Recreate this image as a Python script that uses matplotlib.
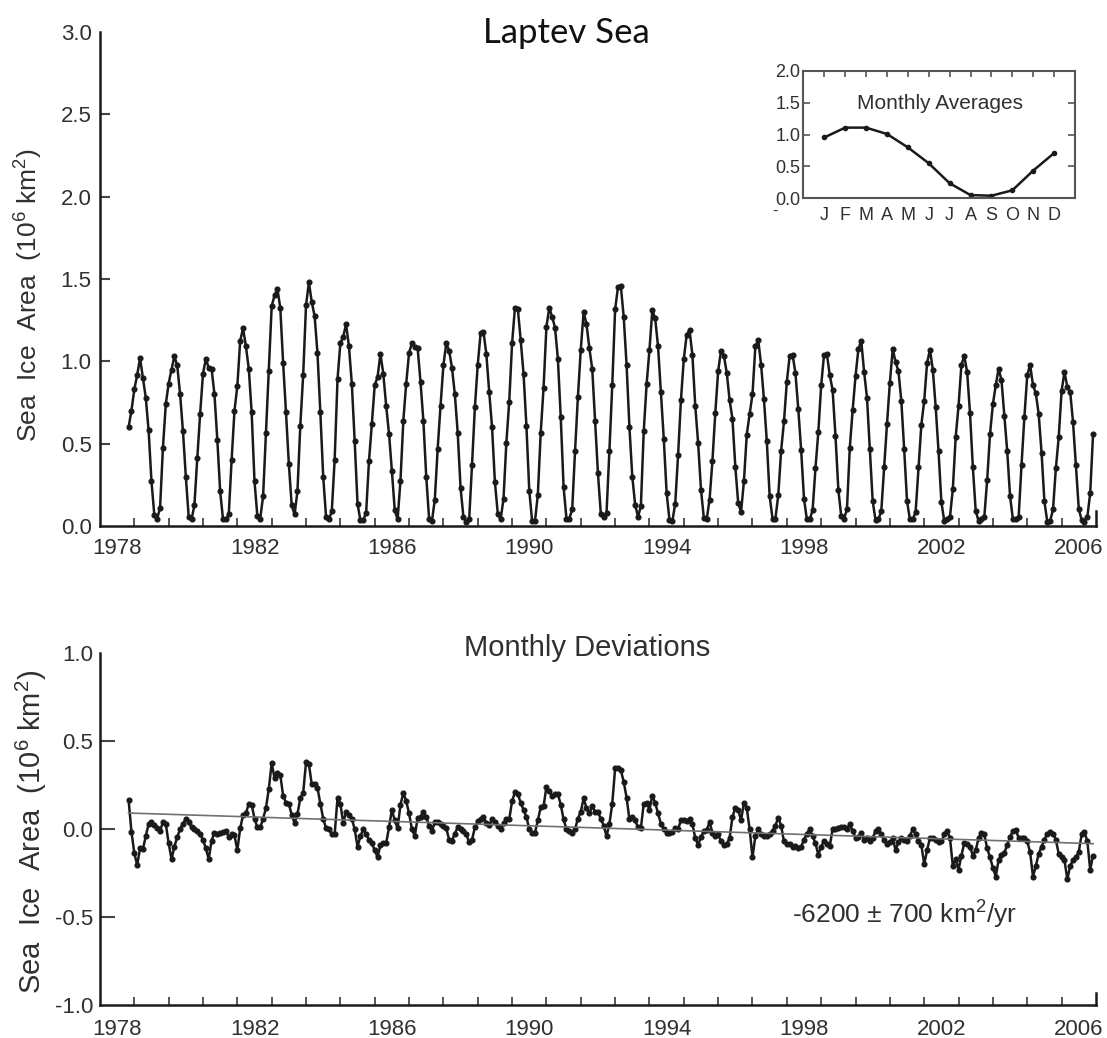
import numpy as np
import matplotlib
matplotlib.use("Agg")
import matplotlib.pyplot as plt
from matplotlib.ticker import FixedLocator

plt.rcParams['font.family'] = ['Liberation Sans', 'DejaVu Sans']
plt.rcParams['mathtext.fontset'] = 'custom'
plt.rcParams['mathtext.rm'] = 'Liberation Sans'
plt.rcParams['mathtext.it'] = 'Liberation Sans:italic'
plt.rcParams['mathtext.bf'] = 'Liberation Sans:bold'

# ---------------------------------------------------------------
# Laptev Sea ice area, 10^6 km^2, monthly from Nov 1978 to Dec 2006
# ---------------------------------------------------------------
start_year, start_month = 1978, 11

area_1978 = [0.60, 0.70]
area_1979 = [0.83, 0.915, 1.02, 0.90, 0.78, 0.58, 0.27, 0.065, 0.045, 0.11, 0.475, 0.74]
area_1980 = [0.865, 0.95, 1.03, 0.975, 0.80, 0.575, 0.30, 0.055, 0.04, 0.125, 0.41, 0.68]
area_1981 = [0.925, 1.015, 0.96, 0.955, 0.80, 0.525, 0.21, 0.04, 0.04, 0.07, 0.40, 0.70]
area_1982 = [0.85, 1.125, 1.20, 1.09, 0.955, 0.69, 0.27, 0.06, 0.045, 0.18, 0.565, 0.94]
area_1983 = [1.335, 1.40, 1.44, 1.325, 0.99, 0.69, 0.375, 0.125, 0.07, 0.21, 0.61, 0.915]
area_1984 = [1.34, 1.48, 1.36, 1.275, 1.05, 0.69, 0.30, 0.055, 0.04, 0.09, 0.40, 0.89]
area_1985 = [1.11, 1.15, 1.225, 1.09, 0.865, 0.515, 0.135, 0.035, 0.035, 0.08, 0.395, 0.62]
area_1986 = [0.855, 0.905, 1.045, 0.925, 0.73, 0.56, 0.335, 0.095, 0.04, 0.275, 0.64, 0.865]
area_1987 = [1.05, 1.11, 1.085, 1.08, 0.875, 0.64, 0.30, 0.045, 0.03, 0.16, 0.47, 0.73]
area_1988 = [0.975, 1.11, 1.065, 0.96, 0.80, 0.565, 0.23, 0.055, 0.025, 0.04, 0.37, 0.72]
area_1989 = [0.98, 1.17, 1.18, 1.045, 0.815, 0.60, 0.265, 0.075, 0.04, 0.165, 0.505, 0.755]
area_1990 = [1.11, 1.325, 1.32, 1.13, 0.925, 0.61, 0.215, 0.03, 0.03, 0.19, 0.565, 0.84]
area_1991 = [1.21, 1.325, 1.27, 1.205, 1.015, 0.66, 0.235, 0.045, 0.045, 0.10, 0.455, 0.785]
area_1992 = [1.07, 1.30, 1.225, 1.08, 0.955, 0.64, 0.32, 0.075, 0.055, 0.08, 0.455, 0.855]
area_1993 = [1.315, 1.45, 1.455, 1.27, 0.98, 0.60, 0.30, 0.13, 0.055, 0.12, 0.575, 0.86]
area_1994 = [1.07, 1.31, 1.26, 1.09, 0.815, 0.53, 0.20, 0.035, 0.03, 0.135, 0.43, 0.765]
area_1995 = [1.015, 1.16, 1.19, 1.04, 0.73, 0.505, 0.22, 0.05, 0.04, 0.16, 0.395, 0.685]
area_1996 = [0.94, 1.065, 1.035, 0.93, 0.765, 0.65, 0.36, 0.14, 0.085, 0.27, 0.555, 0.68]
area_1997 = [0.80, 1.09, 1.13, 0.98, 0.77, 0.515, 0.18, 0.045, 0.045, 0.185, 0.455, 0.635]
area_1998 = [0.875, 1.035, 1.04, 0.93, 0.71, 0.46, 0.165, 0.04, 0.04, 0.095, 0.35, 0.57]
area_1999 = [0.855, 1.04, 1.045, 0.915, 0.825, 0.545, 0.22, 0.06, 0.045, 0.10, 0.475, 0.705]
area_2000 = [0.91, 1.075, 1.125, 0.935, 0.78, 0.465, 0.15, 0.035, 0.04, 0.09, 0.36, 0.62]
area_2001 = [0.87, 1.075, 0.995, 0.94, 0.76, 0.465, 0.15, 0.04, 0.04, 0.085, 0.355, 0.615]
area_2002 = [0.76, 0.99, 1.07, 0.95, 0.725, 0.455, 0.145, 0.03, 0.04, 0.055, 0.225, 0.54]
area_2003 = [0.73, 0.98, 1.03, 0.935, 0.685, 0.355, 0.09, 0.03, 0.04, 0.055, 0.28, 0.56]
area_2004 = [0.74, 0.855, 0.955, 0.885, 0.67, 0.455, 0.18, 0.04, 0.045, 0.055, 0.37, 0.66]
area_2005 = [0.915, 0.98, 0.855, 0.805, 0.68, 0.445, 0.15, 0.025, 0.03, 0.10, 0.35, 0.54]
area_2006 = [0.82, 0.935, 0.845, 0.815, 0.63, 0.37, 0.105, 0.035, 0.025, 0.055, 0.20, 0.56]

# Monthly deviations from the 1979-2006 monthly means, 10^6 km^2
dev_1978 = [0.167, -0.015]
dev_1979 = [-0.135, -0.205, -0.11, -0.115, -0.04, 0.03, 0.04, 0.025, 0.005, -0.01, 0.04, 0.03]
dev_1980 = [-0.08, -0.17, -0.10, -0.045, 0.0, 0.03, 0.06, 0.04, 0.01, 0.0, -0.01, -0.03]
dev_1981 = [-0.06, -0.11, -0.17, -0.065, -0.02, -0.025, -0.02, -0.015, -0.01, -0.045, -0.03, -0.035]
dev_1982 = [-0.12, 0.005, 0.08, 0.09, 0.145, 0.14, 0.06, 0.01, 0.01, 0.06, 0.12, 0.23]
dev_1983 = [0.375, 0.29, 0.32, 0.31, 0.19, 0.15, 0.145, 0.08, 0.035, 0.085, 0.175, 0.205]
dev_1984 = [0.38, 0.37, 0.255, 0.255, 0.235, 0.145, 0.06, 0.005, 0.0, -0.03, -0.03, 0.175]
dev_1985 = [0.145, 0.035, 0.10, 0.08, 0.06, 0.0, -0.10, -0.04, 0.0, -0.03, -0.06, -0.08]
dev_1986 = [-0.12, -0.16, -0.09, -0.08, -0.08, 0.01, 0.11, 0.05, 0.005, 0.14, 0.205, 0.16]
dev_1987 = [0.09, 0.0, -0.04, 0.065, 0.07, 0.095, 0.07, 0.02, -0.01, 0.04, 0.04, 0.03]
dev_1988 = [0.02, 0.005, -0.06, -0.065, -0.025, 0.01, 0.0, -0.01, -0.03, -0.075, -0.06, 0.01]
dev_1989 = [0.045, 0.055, 0.07, 0.035, 0.025, 0.055, 0.04, 0.02, 0.0, 0.035, 0.055, 0.055]
dev_1990 = [0.16, 0.21, 0.20, 0.15, 0.11, 0.07, 0.0, -0.02, -0.02, 0.05, 0.125, 0.13]
dev_1991 = [0.24, 0.215, 0.19, 0.20, 0.20, 0.14, 0.055, 0.0, -0.01, -0.02, 0.0, 0.06]
dev_1992 = [0.10, 0.175, 0.12, 0.09, 0.13, 0.10, 0.095, 0.06, 0.02, -0.04, 0.03, 0.145]
dev_1993 = [0.345, 0.345, 0.335, 0.27, 0.18, 0.055, 0.07, 0.05, 0.01, 0.005, 0.145, 0.15]
dev_1994 = [0.11, 0.19, 0.15, 0.09, 0.03, 0.0, -0.02, -0.02, -0.015, 0.005, 0.0, 0.05]
dev_1995 = [0.05, 0.045, 0.055, 0.03, -0.05, -0.09, -0.045, -0.01, -0.005, 0.04, -0.02, -0.04]
dev_1996 = [-0.03, -0.07, -0.09, -0.085, -0.05, 0.07, 0.12, 0.11, 0.05, 0.15, 0.12, 0.0]
dev_1997 = [-0.16, -0.04, 0.0, -0.03, -0.04, -0.04, -0.03, -0.01, 0.02, 0.065, 0.02, -0.07]
dev_1998 = [-0.085, -0.085, -0.10, -0.095, -0.11, -0.10, -0.06, -0.025, 0.0, -0.04, -0.08, -0.145]
dev_1999 = [-0.10, -0.065, -0.085, -0.095, 0.0, 0.0, 0.005, 0.01, 0.01, 0.0, 0.03, -0.01]
dev_2000 = [-0.05, -0.045, -0.02, -0.06, -0.05, -0.07, -0.05, -0.01, 0.0, -0.03, -0.06, -0.085]
dev_2001 = [-0.075, -0.05, -0.12, -0.075, -0.05, -0.06, -0.07, -0.04, 0.0, -0.03, -0.065, -0.09]
dev_2002 = [-0.20, -0.12, -0.05, -0.05, -0.06, -0.075, -0.07, -0.03, -0.01, -0.05, -0.21, -0.17]
dev_2003 = [-0.23, -0.15, -0.08, -0.085, -0.10, -0.15, -0.12, -0.05, -0.02, -0.03, -0.11, -0.16]
dev_2004 = [-0.22, -0.27, -0.175, -0.145, -0.135, -0.09, -0.045, -0.01, -0.005, -0.05, -0.05, -0.05]
dev_2005 = [-0.07, -0.13, -0.27, -0.21, -0.14, -0.10, -0.06, -0.025, -0.015, -0.025, -0.06, -0.14]
dev_2006 = [-0.16, -0.175, -0.285, -0.21, -0.175, -0.16, -0.13, -0.03, -0.015, -0.07, -0.23, -0.15]

# Monthly averages (inset)
month_letters = ['J', 'F', 'M', 'A', 'M', 'J', 'J', 'A', 'S', 'O', 'N', 'D']
monthly_avg = [0.955, 1.11, 1.11, 1.01, 0.80, 0.55, 0.236, 0.05, 0.04, 0.125, 0.435, 0.71]

# Trend of the deviations, km^2 per year
trend_km2_per_yr = -6200
trend_err_km2_per_yr = 700

label_years = [1978, 1982, 1986, 1990, 1994, 1998, 2002, 2006]
top_yticks = [0.0, 0.5, 1.0, 1.5, 2.0, 2.5, 3.0]
bottom_yticks = [-1.0, -0.5, 0.0, 0.5, 1.0]
inset_yticks = [0.0, 0.5, 1.0, 1.5, 2.0]

years = list(range(1978, 2007))
area = np.concatenate([globals()[f'area_{y}'] for y in years])
dev = np.concatenate([globals()[f'dev_{y}'] for y in years])
t = start_year + (start_month - 1) / 12 + np.arange(len(area)) / 12.0

INK = '#1a1a1a'
TXT = '#303030'

fig = plt.figure(figsize=(11.07, 10.38), dpi=100)
ax1 = fig.add_axes([0.0903, 0.4933, 0.8997, 0.4759])
ax2 = fig.add_axes([0.0903, 0.0318, 0.8997, 0.3388])
axi = fig.add_axes([0.7257, 0.8090, 0.2454, 0.1226])


def style_time_axis(ax, ylim, yticks, ylen, ypad, xpad, end_frac):
    ax.set_xlim(1978, 2007)
    ax.set_ylim(*ylim)
    for s in ('top', 'right'):
        ax.spines[s].set_visible(False)
    for s in ('left', 'bottom'):
        ax.spines[s].set_linewidth(1.8)
        ax.spines[s].set_color(INK)
    ax.xaxis.set_major_locator(FixedLocator([y + 0.5 for y in label_years]))
    ax.set_xticklabels([str(y) for y in label_years])
    ax.xaxis.set_minor_locator(FixedLocator(list(range(1979, 2007))))
    ax.tick_params(axis='x', which='major', length=0, pad=xpad,
                   labelsize=16, labelcolor=TXT)
    ax.tick_params(axis='x', which='minor', direction='in', length=6,
                   width=1.4, color='#555555')
    ax.set_yticks(yticks)
    ax.set_yticklabels([f'{v:.1f}' for v in yticks])
    ax.tick_params(axis='y', direction='in', length=ylen, width=1.5,
                   color='#444444', pad=ypad, labelsize=16, labelcolor=TXT)
    ticks = ax.yaxis.get_major_ticks()
    ticks[0].tick1line.set_visible(False)
    ticks[-1].tick1line.set_visible(False)
    ax.axvline(2007, 0, end_frac, color=INK, lw=1.8, clip_on=False)


# ---- top panel: monthly sea ice area ----
ax1.plot(t, area, color=INK, lw=1.8, marker='o', ms=3.4, mfc=INK, mec=INK)
style_time_axis(ax1, (0, 3.0), top_yticks, 7.5, 6, 9, 0.03)
fig.text(0.512, 0.968, 'Laptev Sea', ha='center', va='center',
         fontsize=25, family=['Lato', 'DejaVu Sans'], color='#111111')
fig.text(0.026, 0.716, r'Sea  Ice  Area  (10$^{6}$ km$^{2}$)', rotation=90,
         ha='center', va='center', fontsize=19, color=TXT)

# ---- inset: monthly averages ----
months = np.arange(1, 13)
axi.plot(months, monthly_avg, color=INK, lw=1.8, marker='o', ms=3.0,
         mfc=INK, mec=INK)
axi.set_xlim(0, 13)
axi.set_ylim(0, 2.0)
for s in axi.spines.values():
    s.set_linewidth(1.5)
    s.set_color('#555555')
axi.set_xticks(months)
axi.set_xticklabels(month_letters)
axi.tick_params(axis='x', which='both', bottom=False, top=True,
                direction='in', length=4, width=1.2, color='#555555',
                pad=6, labelsize=13, labelcolor=TXT)
axi.set_yticks(inset_yticks)
axi.set_yticklabels([f'{v:.1f}' for v in inset_yticks])
axi.tick_params(axis='y', which='both', left=True, right=True,
                direction='in', length=5, width=1.2, color='#555555',
                pad=2, labelsize=13, labelcolor=TXT)
axi.text(0.503, 0.746, 'Monthly Averages', transform=axi.transAxes,
         ha='center', va='center', fontsize=15, color=TXT)
fig.text(0.700, 0.796, '-', ha='center', va='center', fontsize=12, color=TXT)

# ---- bottom panel: monthly deviations and trend ----
ax2.plot(t, dev, color=INK, lw=1.8, marker='o', ms=3.4, mfc=INK, mec=INK)
slope = trend_km2_per_yr / 1e6
t_mid = t.mean()
trend = dev.mean() + slope * (t - t_mid)
ax2.plot(t, trend, color='#707070', lw=1.2)
style_time_axis(ax2, (-1.0, 1.0), bottom_yticks, 11, 5, 10, 0.034)
fig.text(0.530, 0.376, 'Monthly Deviations', ha='center', va='center',
         fontsize=21, color=TXT)
fig.text(0.028, 0.199, r'Sea  Ice  Area  (10$^{6}$ km$^{2}$)', rotation=90,
         ha='center', va='center', fontsize=21, color=TXT)
ax2.text(2001.44, -0.487,
         f'{trend_km2_per_yr} ± {trend_err_km2_per_yr} km$^{{2}}$/yr',
         ha='center', va='center', fontsize=19, color=TXT)

fig.savefig('out.png', dpi=100, facecolor='white')
